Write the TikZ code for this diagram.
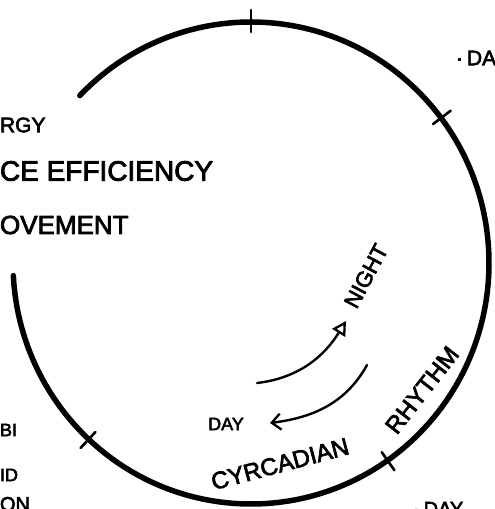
\documentclass[tikz,border=0pt]{standalone}
\usepackage{fontspec}
\setmainfont[FakeBold=3]{Liberation Sans}
\usetikzlibrary{arrows.meta,calc}
\tikzset{
  ring/.style={line width=5.5pt, line cap=round},
  tickmark/.style={line width=2.6pt, line cap=round},
  flow/.style={line width=2.4pt, line cap=round},
  lbl/.style={inner sep=0pt, outer sep=0pt, text=black},
}
\begin{document}
\begin{tikzpicture}[x=1pt,y=1pt]
\useasboundingbox (0,0) rectangle (495,509);
\clip (0,0) rectangle (495,509);
% ring
\coordinate (c) at (251,246);
\draw[ring] (c) ++(136:238 and 241) arc[start angle=136, end angle=-177, x radius=238, y radius=241];
% ticks
\foreach \a [count=\i] in {90,37,-55,-133}{
  \coordinate (ti\i) at ($(c)+(\a:228 and 231)$);
  \coordinate (to\i) at ($(c)+(\a:250 and 253)$);
  \draw[tickmark] (ti\i) -- (to\i);
}
% left texts
\node[lbl, anchor=west, font=\fontsize{21}{21}\selectfont] (t1) at (0,384) {RGY};
\node[lbl, anchor=west, font=\fontsize{28}{28}\selectfont] (t2) at (0,338) {CE EFFICIENCY};
\node[lbl, anchor=west, font=\fontsize{26}{26}\selectfont] (t3) at (0,284) {OVEMENT};
\node[lbl, anchor=west, font=\fontsize{18}{18}\selectfont] (b1) at (0,79) {BI};
\node[lbl, anchor=west, font=\fontsize{18}{18}\selectfont] (b2) at (0,34) {ID};
\node[lbl, anchor=north west, font=\fontsize{20}{20}\selectfont] (b3) at (0,12) {ON};
% right texts
\node[lbl, anchor=west, font=\fontsize{21}{21}\selectfont] (r1) at (456,451) {·\hspace{4pt}DA};
\node[lbl, anchor=north west, font=\fontsize{20}{20}\selectfont] (r2) at (413,7) {·\hspace{4pt}DAY};
% inner labels
\node[lbl, rotate=62, font=\fontsize{22}{22}\selectfont] (night) at (366,233) {NIGHT};
\node[lbl, font=\fontsize{18}{18}\selectfont] (day) at (226,85) {DAY};
\node[lbl, rotate=15, font=\fontsize{24}{24}\selectfont] (cyr) at (280,45) {CYRCADIAN};
\node[lbl, rotate=52, font=\fontsize{24}{24}\selectfont] (rhy) at (422,119) {RHYTHM};
% arrows
\coordinate (a1s) at (257,126);
\coordinate (a1e) at (346,188);
\coordinate (a2s) at (367,144);
\coordinate (a2e) at (270,86);
\draw[flow, -{Triangle[open, length=14pt, width=15pt, line width=2.3pt]}] (a1s) .. controls (300,131) and (325,154) .. (a1e);
\draw[flow, -{Straight Barb[length=9pt, width=16pt, line width=2.3pt]}] (a2s) .. controls (345,104) and (310,91) .. (a2e);
\end{tikzpicture}
\end{document}
